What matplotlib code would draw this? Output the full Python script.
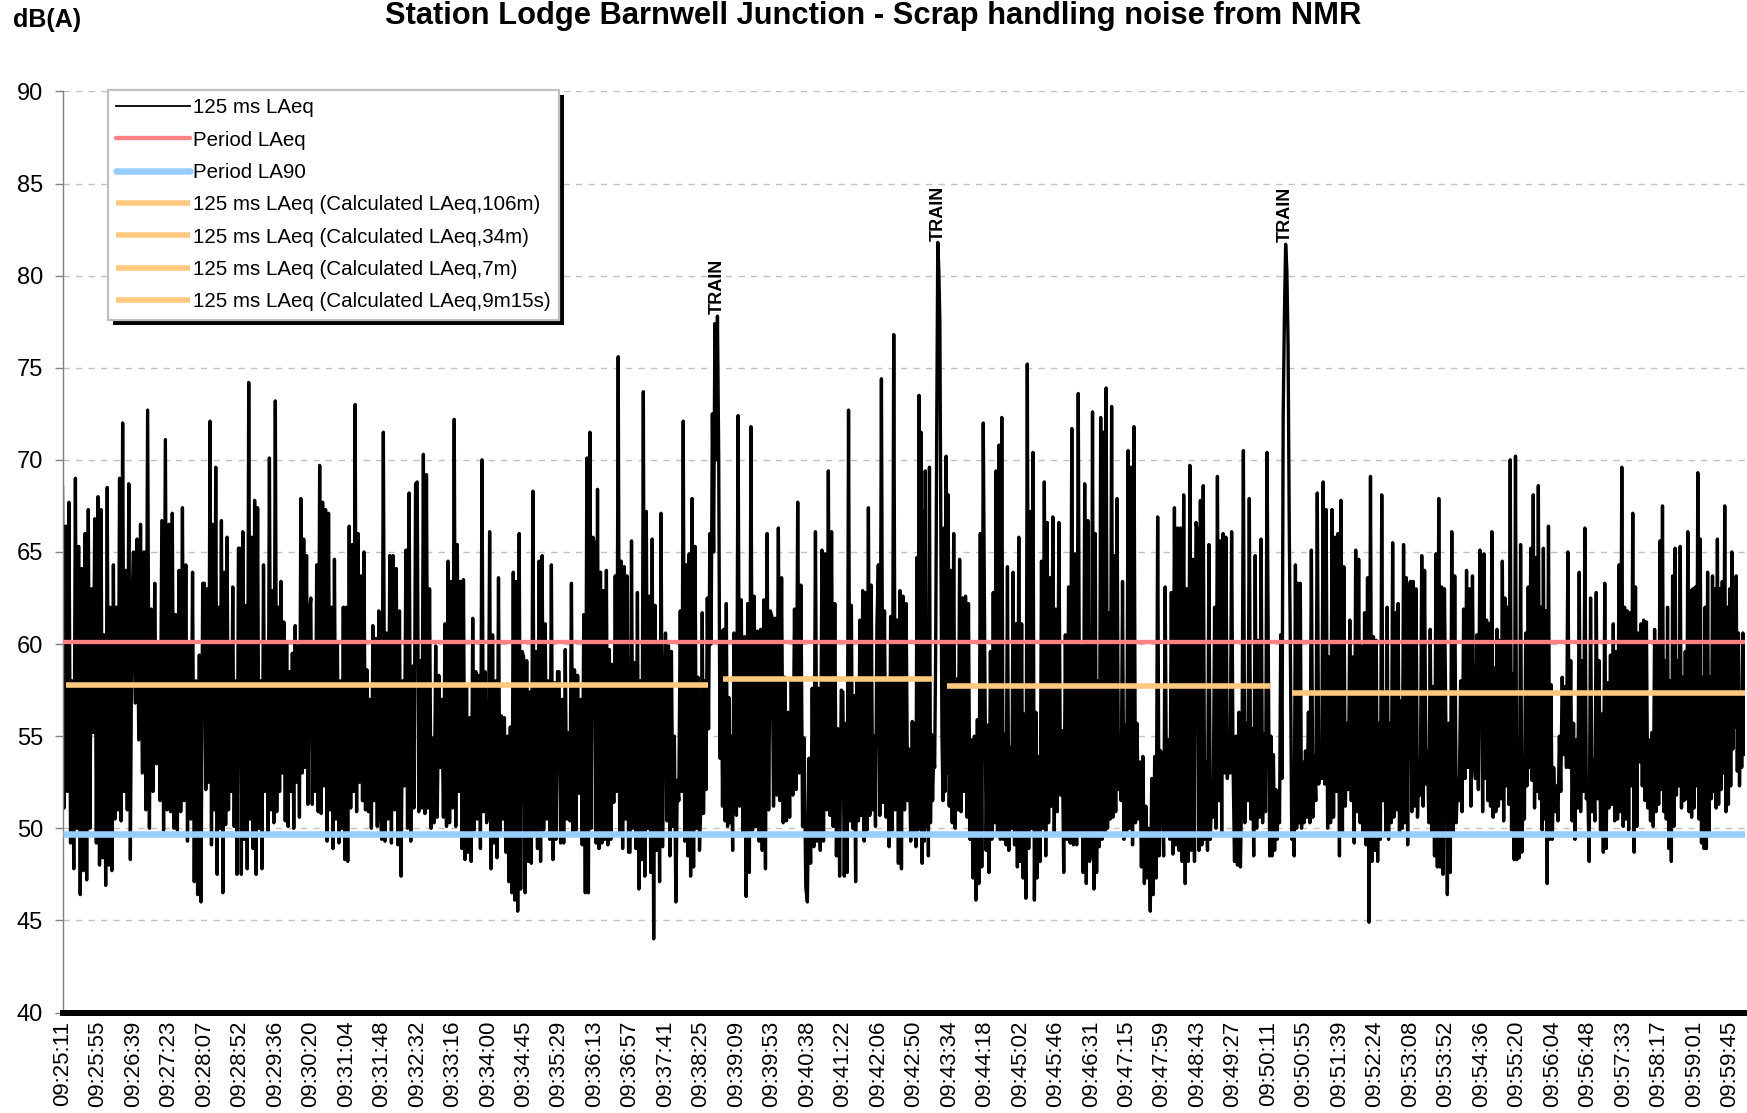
import numpy as np
import matplotlib
matplotlib.use("Agg")
import matplotlib.pyplot as plt
from matplotlib.lines import Line2D
from matplotlib.patches import Rectangle
from matplotlib.transforms import IdentityTransform

plt.rcParams['font.family'] = ['Liberation Sans', 'DejaVu Sans']

TITLE = "Station Lodge Barnwell Junction - Scrap handling noise from NMR"
Y_UNIT = "dB(A)"

# Category-axis labels: one every 353 samples of 125 ms (44.125 s)
TICK_LABELS = ["09:25:11", "09:25:55", "09:26:39", "09:27:23", "09:28:07", "09:28:52",
               "09:29:36", "09:30:20", "09:31:04", "09:31:48", "09:32:32", "09:33:16",
               "09:34:00", "09:34:45", "09:35:29", "09:36:13", "09:36:57", "09:37:41",
               "09:38:25", "09:39:09", "09:39:53", "09:40:38", "09:41:22", "09:42:06",
               "09:42:50", "09:43:34", "09:44:18", "09:45:02", "09:45:46", "09:46:31",
               "09:47:15", "09:47:59", "09:48:43", "09:49:27", "09:50:11", "09:50:55",
               "09:51:39", "09:52:24", "09:53:08", "09:53:52", "09:54:36", "09:55:20",
               "09:56:04", "09:56:48", "09:57:33", "09:58:17", "09:59:01", "09:59:45"]
SAMPLE_S = 0.125
SAMPLES_PER_LABEL = 353
RECORD_START = "09:25:11"
RECORD_END = "10:00:04"

# 125 ms LAeq readings (dB), grouped by the labelled interval they start in
laeq_092511 = [68.5, 51.1, 66.4, 52.0, 67.7, 49.2, 58.0, 47.8, 69.0, 50.0, 65.3, 46.4, 64.1, 47.7, 66.0, 47.2, 67.3, 50.0, 63.0, 55.2, 66.8, 49.2]
laeq_092555 = [68.0, 48.0, 67.3, 48.4, 60.5, 46.9, 68.5, 48.0, 62.0, 47.7, 64.3, 50.5, 62.0, 51.0, 69.0, 50.4, 72.0, 52.0, 64.0, 51.0, 68.7, 48.3, 62.2]
laeq_092639 = [65.0, 56.8, 65.7, 54.8, 66.5, 53.0, 65.0, 51.0, 72.7, 50.0, 61.9, 52.0, 63.3, 53.5, 60.0, 51.5, 66.7, 49.9, 71.1, 51.0]
laeq_092723 = [66.5, 50.9, 67.1, 50.0, 61.6, 49.9, 64.0, 50.9, 67.4, 51.5, 64.3, 49.3, 60.0, 50.5, 63.9, 47.1, 58.0, 46.4, 59.4, 46.0, 63.3]
laeq_092807 = [63.3, 52.1, 63.0, 52.5, 72.1, 49.1, 66.5, 51.0, 69.6, 47.5, 62.0, 50.0, 66.7, 46.5, 63.9, 50.2, 65.8, 51.0, 60.0, 52.0, 63.1, 50.1, 58.0, 47.5, 65.2]
laeq_092852 = [65.2, 47.5, 66.1, 49.4, 62.1, 47.8, 74.2, 50.5, 65.8, 48.9, 67.8, 47.5, 67.4, 50.0, 58.0, 47.8, 64.3, 52.0, 60.0, 49.7, 70.1, 51.0, 62.9, 50.3]
laeq_092936 = [73.2, 50.9, 62.0, 52.0, 63.4, 53.0, 61.2, 50.4, 60.0, 50.1, 58.5, 52.0, 59.5, 50.0, 61.0, 52.5, 59.9, 50.6, 67.9, 53.0, 65.7, 53.3, 64.8, 51.3, 61.6]
laeq_093020 = [62.5, 51.3, 60.0, 52.0, 64.3, 50.9, 69.7, 50.8, 67.7, 52.3, 67.3, 49.3, 67.1, 51.0, 62.0, 48.9, 64.6, 50.5, 60.0, 49.2, 58.0, 50.0, 62.0, 48.3]
laeq_093104 = [62.0, 48.2, 66.4, 51.1, 65.4, 52.0, 73.0, 50.9, 66.0, 52.5, 63.7, 51.5, 65.0, 51.0, 58.6, 50.9, 57.0, 50.0, 61.0, 51.5, 60.3, 50.1, 61.8, 50.9]
laeq_093148 = [49.4, 71.5, 49.3, 60.6, 50.5, 64.8, 49.2, 64.8, 51.0, 64.1, 49.1, 61.8, 47.4, 58.0, 52.3, 65.1, 50.0, 68.2, 49.3, 58.8, 51.1, 68.7]
laeq_093232 = [68.8, 50.9, 59.1, 51.1, 70.3, 50.8, 69.2, 51.1, 63.0, 50.0, 54.9, 50.3, 59.9, 50.6, 58.3, 53.3, 57.0, 50.6, 61.1, 50.1, 64.5, 50.3, 63.4]
laeq_093316 = [51.1, 72.2, 50.1, 65.4, 52.0, 63.4, 48.9, 63.5, 48.3, 57.7, 48.7, 56.0, 48.2, 61.4, 49.9, 58.5, 50.5, 58.3, 48.9, 70.0, 50.9, 58.5, 50.3]
laeq_093400 = [50.9, 66.1, 47.8, 60.5, 49.2, 58.0, 48.4, 63.6, 49.7, 56.1, 50.5, 56.0, 48.7, 55.0, 47.1, 55.5, 46.5, 63.9, 46.1, 63.4, 45.5, 66.0, 46.7, 59.6]
laeq_093445 = [59.3, 46.5, 59.1, 48.2, 57.4, 48.1, 68.3, 49.7, 59.6, 48.9, 64.5, 48.2, 64.8, 49.9, 61.1, 50.5, 58.0, 49.4, 64.3, 48.3, 57.9, 49.4, 58.5]
laeq_093529 = [58.5, 49.2, 57.0, 49.2, 59.7, 50.5, 55.2, 50.4, 63.3, 49.7, 58.6, 49.9, 58.3, 51.9, 57.0, 49.1, 61.6, 46.5, 70.1, 46.5, 71.5, 50.0, 65.8]
laeq_093613 = [65.4, 49.2, 68.4, 48.9, 63.9, 49.2, 62.9, 49.4, 64.0, 49.1, 59.7, 49.4, 58.9, 51.4, 63.7, 52.0, 75.6, 49.7, 64.5, 48.9, 64.2, 50.5, 63.7, 48.7]
laeq_093657 = [48.7, 65.6, 50.0, 59.0, 48.9, 62.8, 46.7, 58.0, 48.3, 73.7, 47.4, 67.2, 50.0, 62.6, 47.6, 65.7, 44.0, 62.1, 48.8, 60.0, 47.1, 67.1, 49.0, 56.0]
laeq_093741 = [60.6, 50.4, 59.9, 48.5, 59.6, 50.1, 55.0, 46.0, 52.6, 51.5, 61.8, 52.0, 72.1, 49.3, 64.3, 48.5, 64.9, 47.4, 67.9, 47.9, 65.3, 50.0, 58.2, 48.8]
laeq_093825 = [51.5, 61.7, 50.8, 58.0, 52.1, 62.5, 55.4, 66.0, 60.0, 72.5, 65.0, 77.4, 70.0, 77.8, 70.1, 53.8, 60.7, 51.2, 60.8, 50.4, 62.2, 50.1, 57.1, 50.3, 55.0, 48.8, 60.6, 51.2]
laeq_093909 = [50.7, 72.4, 51.2, 62.4, 49.6, 60.4, 46.3, 62.2, 47.6, 71.8, 49.9, 62.6, 50.1, 60.7, 49.3, 60.8, 48.8, 62.4, 47.8, 66.0, 51.0, 61.8]
laeq_093953 = [61.5, 51.2, 61.4, 51.8, 66.3, 51.5, 63.6, 50.3, 58.2, 50.4, 56.3, 50.6, 58.0, 51.8, 61.9, 52.1, 67.7, 53.0, 63.2, 50.1, 54.9, 46.8]
laeq_094038 = [46.0, 53.8, 48.1, 57.6, 49.0, 66.1, 49.3, 57.6, 48.8, 65.1, 49.3, 64.9, 51.0, 69.4, 50.7, 66.1, 50.1, 62.2, 48.5, 55.4, 47.4, 57.5]
laeq_094122 = [57.4, 47.4, 55.7, 47.6, 72.7, 50.4, 62.1, 50.0, 57.2, 47.1, 58.0, 50.4, 61.3, 50.7, 62.9, 49.3, 62.8, 49.9, 67.4, 50.7, 63.2, 51.0, 55.0, 50.1, 61.0]
laeq_094206 = [64.3, 50.7, 74.4, 51.4, 61.8, 50.6, 58.0, 49.0, 61.5, 49.9, 76.8, 51.0, 61.3, 48.1, 62.9, 47.8, 62.6, 51.0, 62.2, 51.5, 54.3, 49.3, 55.8]
laeq_094250 = [49.6, 55.7, 49.0, 64.7, 49.9, 73.5, 50.5, 71.5, 48.1, 67.2, 49.3, 69.4, 50.1, 55.8, 48.5, 69.6, 50.3, 55.1, 51.5, 53.9, 53.3, 60.0, 72.0, 81.8, 80.3, 77.4, 65.0, 55.0, 51.5, 66.3, 52.0, 70.2, 53.0, 68.1]
laeq_094334 = [51.2, 64.0, 50.3, 66.0, 50.0, 58.1, 51.0, 64.6, 50.9, 62.5, 52.0, 62.6, 50.6, 62.2, 49.4, 54.8, 47.3, 55.0, 46.1, 55.9, 47.0, 66.0, 47.9, 72.0]
laeq_094418 = [59.6, 48.8, 55.6, 47.6, 59.6, 49.4, 62.8, 50.3, 69.4, 49.7, 70.8, 49.4, 72.3, 49.4, 55.1, 49.1, 64.2, 48.8, 54.4, 50.0, 63.9, 49.1, 61.1, 47.9, 65.8]
laeq_094502 = [48.2, 61.1, 47.3, 56.2, 46.2, 75.2, 48.9, 67.2, 50.0, 70.4, 46.1, 56.3, 47.3, 53.9, 48.2, 64.5, 50.0, 68.8, 48.5, 66.6, 50.3, 63.6, 51.2, 66.9, 49.7]
laeq_094546 = [61.9, 50.9, 66.6, 51.8, 55.3, 47.6, 60.5, 49.4, 63.1, 49.2, 71.7, 49.1, 64.9, 49.1, 73.6, 49.7, 59.9, 47.6, 68.7, 47.0, 66.7, 48.2]
laeq_094631 = [48.8, 72.6, 46.7, 66.0, 47.6, 58.0, 49.0, 72.3, 49.4, 71.5, 49.7, 73.9, 50.0, 61.7, 50.5, 72.9, 50.6, 64.8, 50.9, 67.9, 52.1, 53.6, 51.5, 63.4, 49.4, 55.6]
laeq_094715 = [49.7, 70.5, 50.0, 69.6, 49.1, 71.8, 50.3, 55.7, 50.5, 53.6, 47.9, 53.9, 47.0, 51.2, 47.3, 50.0, 45.5, 52.7, 46.4, 53.9, 47.3, 66.9, 48.5, 54.2]
laeq_094759 = [52.1, 48.5, 63.1, 49.7, 54.8, 49.4, 62.8, 48.6, 67.4, 49.1, 66.3, 48.8, 66.3, 48.2, 68.1, 47.0, 63.0, 48.2, 69.7, 48.8, 64.6, 48.2, 66.6]
laeq_094843 = [66.0, 48.8, 67.8, 49.1, 68.6, 49.4, 53.6, 48.8, 65.4, 49.4, 52.1, 50.6, 62.0, 50.0, 69.1, 51.5, 65.6, 49.7, 66.0, 53.0, 65.8, 52.7, 54.2, 53.0, 66.1]
laeq_094927 = [53.6, 48.2, 55.0, 48.0, 56.3, 47.9, 52.7, 70.5, 50.3, 55.7, 51.5, 67.9, 50.5, 55.4, 48.5, 64.8, 50.0, 60.2, 50.6, 65.7, 50.3, 55.1, 50.9, 70.4]
laeq_095011 = [57.8, 48.5, 55.0, 48.5, 54.0, 48.8, 52.1, 49.4, 52.0, 50.3, 60.5, 52.7, 72.4, 77.8, 81.7, 80.3, 76.2, 66.0, 58.7, 49.4, 52.7, 48.5, 64.3, 50.0, 63.3, 50.3, 63.3, 50.0, 53.6]
laeq_095055 = [50.3, 54.2, 50.6, 56.3, 50.3, 65.1, 50.6, 53.9, 51.5, 68.2, 52.4, 54.5, 52.7, 68.8, 52.4, 67.3, 50.0, 59.3, 50.3, 67.3, 50.6, 65.8, 52.0, 66.0]
laeq_095139 = [48.5, 67.8, 49.7, 64.2, 51.2, 55.7, 52.1, 61.3, 51.5, 59.3, 49.2, 65.1, 50.9, 64.6, 50.3, 59.9, 49.7, 61.7, 49.1, 63.6, 44.9, 69.1, 48.2, 60.4]
laeq_095224 = [48.8, 60.2, 48.2, 55.7, 49.4, 68.1, 51.5, 57.2, 49.7, 62.0, 49.4, 55.7, 50.3, 65.5, 50.6, 61.7, 51.0, 62.2, 49.7, 56.9, 50.0, 65.4, 50.3, 63.6, 49.1, 63.0]
laeq_095308 = [63.4, 50.9, 63.4, 51.2, 63.0, 50.6, 53.3, 51.8, 64.8, 51.2, 64.0, 52.4, 54.2, 50.3, 60.8, 49.7, 57.7, 48.5, 64.9, 47.9, 67.9, 47.9, 63.1, 47.5, 63.0]
laeq_095352 = [55.7, 46.4, 55.7, 47.6, 66.1, 49.7, 63.7, 50.3, 52.7, 51.5, 58.0, 50.9, 61.9, 52.7, 64.0, 53.3, 63.0, 51.2, 63.7, 53.9, 52.7, 60.5, 52.1, 65.1]
laeq_095436 = [61.4, 50.9, 64.9, 52.7, 61.3, 51.5, 61.1, 51.2, 66.1, 50.6, 58.7, 50.9, 60.8, 51.2, 60.2, 51.6, 64.5, 50.4, 62.5, 52.3, 62.0, 51.3, 70.0, 49.9, 58.4, 48.3, 70.2]
laeq_095520 = [48.3, 54.8, 48.4, 65.4, 48.7, 52.3, 50.5, 60.6, 52.3, 63.1, 53.3, 65.2, 52.6, 68.1, 51.1, 64.7, 52.0, 68.6, 51.6, 62.0, 49.9, 65.2, 50.5, 61.8, 47.0, 66.4, 49.4, 57.8]
laeq_095604 = [49.4, 53.3, 50.9, 52.3, 50.4, 55.0, 52.0, 58.2, 54.0, 57.7, 53.3, 65.0, 53.3, 59.1, 50.4, 55.7, 49.4, 54.8, 51.1, 63.9, 50.9, 59.1, 52.0, 66.3, 51.6]
laeq_095648 = [52.3, 48.2, 62.5, 50.9, 53.7, 50.4, 62.8, 51.6, 59.1, 49.9, 56.2, 48.7, 63.3, 48.9, 57.9, 51.1, 59.4, 51.3, 61.1, 50.4, 59.6, 50.5, 64.3, 50.9, 69.6]
laeq_095733 = [50.1, 62.0, 50.5, 61.8, 49.9, 61.7, 52.3, 67.1, 48.7, 63.1, 50.1, 60.6, 53.6, 61.1, 52.3, 61.3, 51.5, 61.2, 51.1, 54.8, 50.4, 55.2, 50.1, 60.8, 50.9, 59.9]
laeq_095817 = [51.3, 65.6, 52.1, 67.5, 50.9, 59.1, 50.5, 62.0, 48.9, 58.0, 48.2, 63.7, 50.1, 65.2, 51.8, 59.1, 52.3, 65.3, 51.1, 58.2, 51.5, 59.6, 51.6, 66.1, 50.9, 62.9, 50.6, 63.0]
laeq_095901 = [51.1, 63.1, 52.3, 69.3, 50.5, 65.7, 49.2, 58.2, 48.9, 62.0, 48.9, 63.9, 49.7, 58.2, 51.6, 63.7, 52.0, 63.0, 51.1, 65.7, 51.3, 63.0, 52.1, 63.4, 53.0, 67.5, 50.9, 62.0, 51.3]
laeq_095945 = [63.0, 52.3, 65.0, 54.3, 60.8, 55.5, 63.7, 53.1, 60.6, 52.3, 57.2, 53.3, 60.6, 54.0, 60.5]

LAEQ_BLOCKS = [laeq_092511, laeq_092555, laeq_092639, laeq_092723, laeq_092807, laeq_092852,
               laeq_092936, laeq_093020, laeq_093104, laeq_093148, laeq_093232, laeq_093316,
               laeq_093400, laeq_093445, laeq_093529, laeq_093613, laeq_093657, laeq_093741,
               laeq_093825, laeq_093909, laeq_093953, laeq_094038, laeq_094122, laeq_094206,
               laeq_094250, laeq_094334, laeq_094418, laeq_094502, laeq_094546, laeq_094631,
               laeq_094715, laeq_094759, laeq_094843, laeq_094927, laeq_095011, laeq_095055,
               laeq_095139, laeq_095224, laeq_095308, laeq_095352, laeq_095436, laeq_095520,
               laeq_095604, laeq_095648, laeq_095733, laeq_095817, laeq_095901, laeq_095945]

PERIOD_LAEQ = 60.1
PERIOD_LA90 = 49.7

CALC_LABELS = ["125 ms LAeq (Calculated LAeq,106m)",
               "125 ms LAeq (Calculated LAeq,34m)",
               "125 ms LAeq (Calculated LAeq,7m)",
               "125 ms LAeq (Calculated LAeq,9m15s)"]
CALC_START = ["09:25:15", "09:38:53", "09:43:31", "09:50:40"]
CALC_END = ["09:38:34", "09:43:15", "09:50:14", "10:00:04"]
CALC_LEVEL = [57.8, 58.1, 57.7, 57.35]

# labelled intervals that contain a train pass-by
TRAIN_BLOCKS = [18, 24, 34]

C_TRACE = "#000000"
C_LAEQ = "#FF8080"
C_LA90 = "#99CCFF"
C_CALC = "#FFC97F"


def to_seconds(hms):
    h, m, s = (int(p) for p in hms.split(":"))
    h0, m0, s0 = (int(p) for p in RECORD_START.split(":"))
    return (h * 3600 + m * 60 + s) - (h0 * 3600 + m0 * 60 + s0)


label_step = SAMPLES_PER_LABEL * SAMPLE_S
tick_pos = np.arange(len(TICK_LABELS)) * label_step
t_end = to_seconds(RECORD_END)
edges = list(tick_pos) + [t_end]

times, levels, block_of = [], [], []
for k, block in enumerate(LAEQ_BLOCKS):
    n = len(block)
    t0, t1 = edges[k], edges[k + 1]
    if k == len(LAEQ_BLOCKS) - 1:
        tt = np.linspace(t0, t1, n)
    else:
        tt = t0 + (t1 - t0) * np.arange(n) / n
    times.extend(tt)
    levels.extend(block)
    block_of.extend([k] * n)
times = np.array(times)
levels = np.array(levels)
block_of = np.array(block_of)

W, H = 1747, 1113
fig = plt.figure(figsize=(W / 100, H / 100), dpi=100)
fig.patch.set_facecolor("white")
ax_left, ax_right = 62.5, 1745.0
ax_top, ax_bottom = 91.4, 1012.5
ax = fig.add_axes([ax_left / W, 1 - ax_bottom / H, (ax_right - ax_left) / W, (ax_bottom - ax_top) / H])

LW_TRACE, LW_LAEQ, LW_LA90, LW_CALC = 2.4, 3.1, 4.7, 4.0

ax.plot(times, levels, color=C_TRACE, lw=LW_TRACE, zorder=2)
ax.plot([0, t_end], [PERIOD_LAEQ, PERIOD_LAEQ], color=C_LAEQ, lw=LW_LAEQ, zorder=3, solid_capstyle="butt")
ax.plot([0, t_end], [PERIOD_LA90, PERIOD_LA90], color=C_LA90, lw=LW_LA90, zorder=3, solid_capstyle="butt")
for start, end, lev in zip(CALC_START, CALC_END, CALC_LEVEL):
    ax.plot([to_seconds(start), to_seconds(end)], [lev, lev], color=C_CALC, lw=LW_CALC, zorder=3,
            solid_capstyle="butt")

for k in TRAIN_BLOCKS:
    sel = np.where(block_of == k)[0]
    i = sel[np.argmax(levels[sel])]
    ax.text(times[i], levels[i] + 0.1, "TRAIN", rotation=90, ha="center", va="bottom",
            fontsize=13, fontweight="bold", zorder=4)

ax.set_xlim(0, t_end)
ax.set_ylim(40, 90)
ax.set_yticks(np.arange(40, 91, 5))
ax.set_xticks(tick_pos)
ax.set_xticklabels(TICK_LABELS, rotation=90, ha="center", va="top")
ax.tick_params(axis="y", direction="out", length=6, width=1, color="#808080", pad=8, labelsize=17)
ax.tick_params(axis="x", length=0, pad=6, labelsize=16)

ax.grid(axis="y", linestyle=(0, (4.5, 4.5)), color="#C0C0C0", lw=1.0)
ax.set_axisbelow(True)
for side in ("top", "right"):
    ax.spines[side].set_visible(False)
ax.spines["left"].set_color("#808080")
ax.spines["left"].set_linewidth(1.0)
ax.spines["bottom"].set_color("black")
ax.spines["bottom"].set_linewidth(4.3)

handles = [Line2D([], [], color=C_TRACE, lw=1.3),
           Line2D([], [], color=C_LAEQ, lw=LW_LAEQ, solid_capstyle="round"),
           Line2D([], [], color=C_LA90, lw=LW_LA90, solid_capstyle="round")] + \
          [Line2D([], [], color=C_CALC, lw=LW_CALC, solid_capstyle="butt") for _ in CALC_LABELS]
labels = ["125 ms LAeq", "Period LAeq", "Period LA90"] + CALC_LABELS
leg = ax.legend(handles, labels, loc="upper left",
                bbox_to_anchor=(108 / W, 1 - 90 / H), bbox_transform=fig.transFigure,
                fontsize=14.8, frameon=True, fancybox=False, framealpha=1.0,
                edgecolor="#C0C0C0", borderpad=0.4, labelspacing=0.65,
                handlelength=3.6, handletextpad=0.15, borderaxespad=0.0)
leg.get_frame().set_linewidth(1.6)
leg.set_zorder(6)

fig.text(0.5, 1 - 15.6 / H, TITLE, ha="center", va="center", fontsize=22.2, fontweight="bold")
fig.text(13 / W, 1 - 20 / H, Y_UNIT, ha="left", va="center", fontsize=18, fontweight="bold")

# drop shadow behind the legend box
fig.canvas.draw()
bb = leg.get_window_extent(fig.canvas.get_renderer())
shadow = Rectangle((bb.x0 + 5, bb.y0 - 5), bb.width, bb.height, transform=IdentityTransform(),
                   facecolor="black", edgecolor="none", zorder=5.9)
ax.add_artist(shadow)

fig.savefig("out.png", dpi=100, facecolor="white")
